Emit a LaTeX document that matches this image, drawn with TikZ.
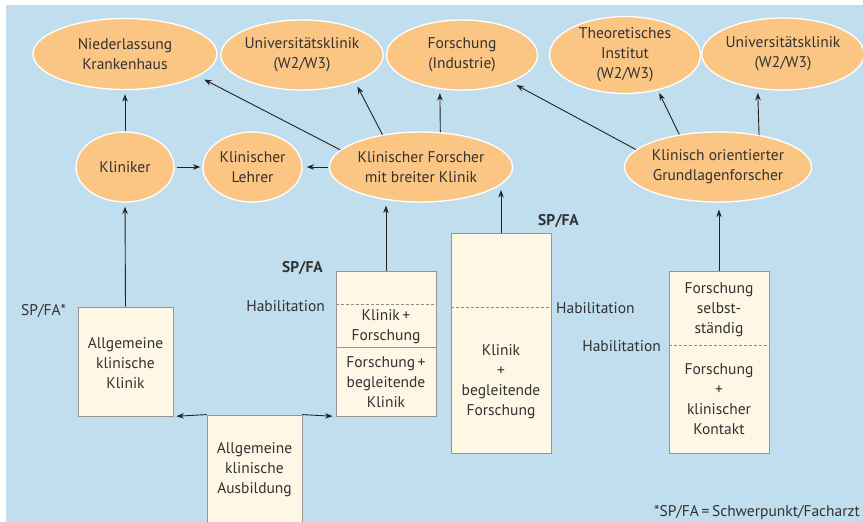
\documentclass[tikz,border=0pt]{standalone}
\usepackage{fontspec}
\setmainfont{PT Sans}
\usetikzlibrary{shapes.geometric,arrows.meta,calc}
\definecolor{bgblue}{RGB}{192,222,238}
\definecolor{orfill}{RGB}{251,198,132}
\definecolor{boxfill}{RGB}{254,247,229}
\definecolor{boxline}{RGB}{150,150,150}
\definecolor{txt}{RGB}{50,50,50}
\definecolor{arrowc}{RGB}{35,35,35}
\definecolor{dashc}{RGB}{140,140,140}
\begin{document}
\begin{tikzpicture}[x=1pt,y=-1pt,
  every node/.style={font=\fontsize{15.5}{20}\selectfont, text=txt},
  ell/.style={ellipse, draw=white, line width=1.3pt, fill=orfill, align=center, inner sep=0pt},
  box/.style={rectangle, draw=boxline, line width=0.8pt, fill=boxfill, inner sep=0pt},
  lbl/.style={align=center, inner sep=0pt},
  arr/.style={-{Stealth[length=7.5pt,width=5.5pt]}, line width=0.9pt, draw=arrowc},
  hab/.style={draw=dashc, line width=0.7pt, dash pattern=on 3pt off 2pt},
  sep/.style={draw=boxline, line width=0.8pt},
  bold/.style={font=\fontsize{15.5}{20}\selectfont\bfseries}
]
\useasboundingbox (0,0) rectangle (863,522);
\fill[bgblue] (6,5) rectangle (863,522);

% top row
\node[ell, minimum width=184pt, minimum height=71pt] (nied) at (125,54) {Niederlassung\\Krankenhaus};
\node[ell, minimum width=151pt, minimum height=70pt] (univL) at (302,55) {Universitätsklinik\\(W2/W3)};
\node[ell, minimum width=151pt, minimum height=70pt] (indus) at (462,55) {Forschung\\(Industrie)};
\node[ell, minimum width=151pt, minimum height=74pt] (theo) at (625,55) {Theoretisches\\Institut\\(W2/W3)};
\node[ell, minimum width=148pt, minimum height=72pt] (univR) at (783,54) {Universitätsklinik\\(W2/W3)};

% middle row
\node[ell, minimum width=98pt, minimum height=70pt] (klin) at (125,167) {Kliniker};
\node[ell, minimum width=99pt, minimum height=70pt] (lehrer) at (252.5,167) {Klinischer\\Lehrer};
\node[ell, minimum width=183pt, minimum height=70pt] (forscher) at (421,167) {Klinischer Forscher\\mit breiter Klinik};
\node[ell, minimum width=183pt, minimum height=70pt] (grund) at (718,167) {Klinisch orientierter\\Grundlagenforscher};

% boxes
\node[box, minimum width=95pt, minimum height=109pt] (box1) at (125.5,361.5) {};
\node[box, minimum width=95pt, minimum height=110pt] (aus) at (254.5,470) {};
\node[box, minimum width=100pt, minimum height=145pt] (kf) at (386,343.5) {};
\node[box, minimum width=100pt, minimum height=220pt] (kbf) at (501,343) {};
\node[box, minimum width=100pt, minimum height=182pt] (fs) at (719,362) {};

% separators
\draw[hab] ($(kf.north west)+(0,34)$) -- ($(kf.north east)+(0,34)$);
\draw[sep] ($(kf.north west)+(0,77)$) -- ($(kf.north east)+(0,77)$);
\draw[hab] ($(kbf.north west)+(0,75)$) -- ($(kbf.north east)+(0,75)$);
\draw[hab] ($(fs.north west)+(0,75)$) -- ($(fs.north east)+(0,75)$);

% box texts
\node[lbl] (t1) at (125.5,363) {Allgemeine\\klinische\\Klinik};
\node[lbl] (t2) at (254.5,470) {Allgemeine\\klinische\\Ausbildung};
\node[lbl] (t3) at (386,327) {Klinik\,+\\Forschung};
\node[lbl] (t4) at (386,382) {Forschung\,+\\begleitende\\Klinik};
\node[lbl] (t5) at (501,382) {Klinik\\+\\begleitende\\Forschung};
\node[lbl] (t6) at (719,310) {Forschung\\selbst-\\ständig};
\node[lbl] (t7) at (719,399.5) {Forschung\\+\\klinischer\\Kontakt};

% side labels
\node[lbl, anchor=west] (spfa1) at (21,311) {SP/FA*};
\node[lbl, bold, anchor=east] (spfa2) at (323,268) {SP/FA};
\node[lbl, anchor=east] (hab1) at (325,306) {Habilitation};
\node[lbl, bold, anchor=west] (spfa3) at (538,221) {SP/FA};
\node[lbl, anchor=west] (hab2) at (556,308) {Habilitation};
\node[lbl, anchor=east] (hab3) at (661,346) {Habilitation};
\node[lbl, anchor=east] (foot) at (860,513) {*SP/FA\,=\,Schwerpunkt/Facharzt};

% connectors
\coordinate (kbftip) at (501,190);
\draw[arr, shorten >=4pt] (klin.north) -- (nied.south);
\draw[arr, shorten <=2pt, shorten >=2pt] (klin.east) -- (lehrer.west);
\draw[arr, shorten <=1pt, shorten >=4pt] (forscher.west) -- (lehrer.east);
\draw[arr, shorten >=7pt] (forscher.168) -- (nied.-17);
\draw[arr, shorten >=5pt] (forscher.140) -- (univL.-27);
\draw[arr, shorten >=4pt] (forscher.61) -- (indus.-123);
\draw[arr, shorten >=6pt] (grund.168) -- (indus.-29);
\draw[arr, shorten >=3pt] (grund.140) -- (theo.-47);
\draw[arr, shorten >=4pt] (grund.38) -- (univR.-126);
\draw[arr, shorten >=4pt] (box1.north) -- (klin.south);
\draw[arr, shorten >=3pt] (kf.north) -- (kf.north |- forscher.south);
\draw[arr] (kbf.north) -- (kbftip);
\draw[arr, shorten >=7pt] (fs.north) -- (fs.north |- grund.south);
\draw[arr, shorten >=3pt] (aus.north west) -- (box1.south east);
\draw[arr, shorten >=3pt] (aus.north east) -- (kf.south west);
\end{tikzpicture}
\end{document}
